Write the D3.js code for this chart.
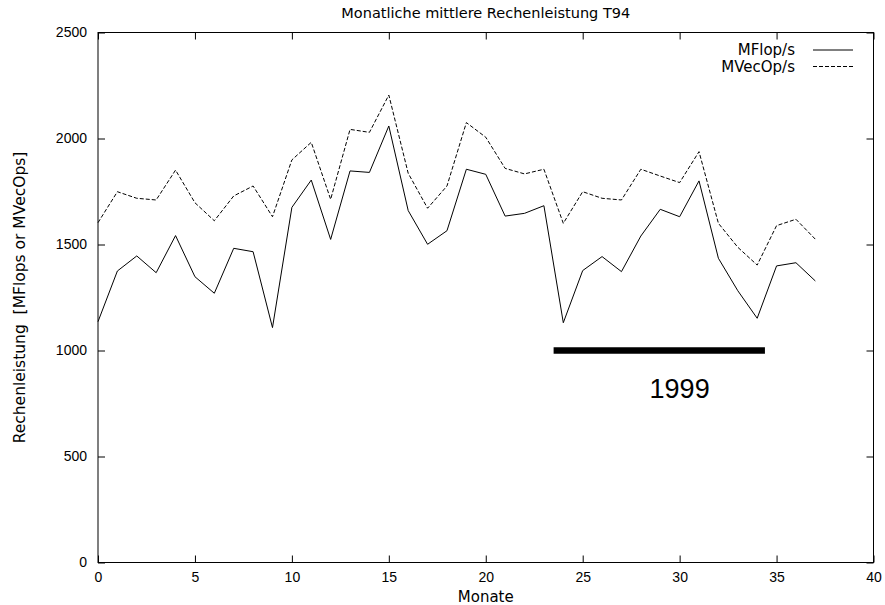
<!DOCTYPE html>
<html>
<head>
<meta charset="utf-8">
<script src="https://cdn.jsdelivr.net/npm/d3@7"></script>
<style>
  body { margin: 0; background: #fff; }
  svg { display: block; font-family: "DejaVu Sans", sans-serif; }
</style>
</head>
<body>
<div id="chart"></div>
<script>
// Data
const months = d3.range(0, 38)
const mflops = [1136, 1375, 1446, 1367, 1542, 1348, 1270, 1482, 1466, 1108,
  1675, 1804, 1524, 1847, 1840, 2059, 1660, 1501, 1565, 1855,
  1831, 1634, 1647, 1683, 1131, 1377, 1443, 1372, 1540, 1666,
  1631, 1800, 1435, 1282, 1152, 1399, 1414, 1328]
const mvecops = [1603, 1749, 1718, 1710, 1851, 1697, 1612, 1729, 1776, 1631,
  1899, 1982, 1713, 2043, 2029, 2205, 1836, 1671, 1776, 2075,
  2006, 1859, 1833, 1855, 1600, 1749, 1718, 1710, 1855, 1823,
  1792, 1938, 1600, 1487, 1403, 1589, 1619, 1525]
const xTicks = [0, 5, 10, 15, 20, 25, 30, 35, 40]
const yTicks = [0, 500, 1000, 1500, 2000, 2500]
const yearBar = [23.5, 34.4]
const yearBarValue = 1000
const yearLabel = "1999"
const yearLabelPos = [30.0, 775]

// Dimensions
const dimensions = {
  width: 885,
  height: 605,
  margin: { top: 32.5, right: 11.5, bottom: 42.5, left: 98 }
}
dimensions.boundedWidth = dimensions.width - dimensions.margin.left - dimensions.margin.right
dimensions.boundedHeight = dimensions.height - dimensions.margin.top - dimensions.margin.bottom

const svg = d3.select("#chart").append("svg")
  .attr("width", dimensions.width)
  .attr("height", dimensions.height)

const bounds = svg.append("g")
  .attr("transform", `translate(${dimensions.margin.left},${dimensions.margin.top})`)

// Scales
const xScale = d3.scaleLinear().domain([0, 40]).range([0, dimensions.boundedWidth])
const yScale = d3.scaleLinear().domain([0, 2500]).range([dimensions.boundedHeight, 0])

// Axes (gnuplot style: inward ticks, mirrored)
const tickLen = 7
const styleAxis = g => {
  g.select(".domain").remove()
  g.selectAll("line").attr("stroke", "#000")
  g.selectAll("text").attr("fill", "#000").style("font-size", "14px")
}
bounds.append("g")
  .attr("transform", `translate(0,${dimensions.boundedHeight})`)
  .call(d3.axisBottom(xScale).tickValues(xTicks).tickSizeInner(-tickLen).tickSizeOuter(0).tickPadding(10))
  .call(styleAxis)
bounds.append("g")
  .call(d3.axisTop(xScale).tickValues(xTicks).tickSizeInner(-tickLen).tickSizeOuter(0).tickFormat(""))
  .call(styleAxis)
bounds.append("g")
  .call(d3.axisLeft(yScale).tickValues(yTicks).tickFormat(d3.format("d")).tickSizeInner(-tickLen).tickSizeOuter(0).tickPadding(11))
  .call(styleAxis)
bounds.append("g")
  .attr("transform", `translate(${dimensions.boundedWidth},0)`)
  .call(d3.axisRight(yScale).tickValues(yTicks).tickSizeInner(-tickLen).tickSizeOuter(0).tickFormat(""))
  .call(styleAxis)

bounds.append("rect")
  .attr("x", 0).attr("y", 0)
  .attr("width", dimensions.boundedWidth)
  .attr("height", dimensions.boundedHeight)
  .attr("fill", "none")
  .attr("stroke", "#000")

// Lines
const lineGen = values => d3.line()
  .x((d, i) => xScale(months[i]))
  .y(d => yScale(d))(values)

bounds.append("path")
  .attr("d", lineGen(mflops))
  .attr("fill", "none")
  .attr("stroke", "#000")
  .attr("stroke-width", 1)

bounds.append("path")
  .attr("d", lineGen(mvecops))
  .attr("fill", "none")
  .attr("stroke", "#000")
  .attr("stroke-width", 1)
  .attr("stroke-dasharray", "4,2")

// 1999 marker
bounds.append("line")
  .attr("x1", xScale(yearBar[0]))
  .attr("x2", xScale(yearBar[1]))
  .attr("y1", yScale(yearBarValue))
  .attr("y2", yScale(yearBarValue))
  .attr("stroke", "#000")
  .attr("stroke-width", 6.5)

bounds.append("text")
  .attr("x", xScale(yearLabelPos[0]))
  .attr("y", yScale(yearLabelPos[1]))
  .attr("text-anchor", "middle")
  .style("font-family", "'Liberation Sans', Arial, sans-serif")
  .style("font-size", "27px")
  .text(yearLabel)

// Legend
const legend = [
  { label: "MFlop/s", dash: null },
  { label: "MVecOp/s", dash: "4,2" }
]
const legendGroup = svg.append("g")
legend.forEach((d, i) => {
  const y = 50 + i * 16.5
  legendGroup.append("text")
    .attr("x", 795)
    .attr("y", y + 5)
    .attr("text-anchor", "end")
    .style("font-size", "15px")
    .text(d.label)
  legendGroup.append("line")
    .attr("x1", 813).attr("x2", 853)
    .attr("y1", y).attr("y2", y)
    .attr("stroke", "#000")
    .attr("stroke-dasharray", d.dash)
})

// Labels
svg.append("text")
  .attr("x", dimensions.margin.left + dimensions.boundedWidth / 2)
  .attr("y", 18)
  .attr("text-anchor", "middle")
  .style("font-size", "14.5px")
  .text("Monatliche mittlere Rechenleistung T94")

svg.append("text")
  .attr("x", dimensions.margin.left + dimensions.boundedWidth / 2)
  .attr("y", 602)
  .attr("text-anchor", "middle")
  .style("font-size", "15px")
  .text("Monate")

svg.append("text")
  .attr("transform", `translate(25,${dimensions.margin.top + dimensions.boundedHeight / 2}) rotate(-90)`)
  .attr("text-anchor", "middle")
  .style("font-size", "15.5px")
  .style("white-space", "pre")
  .text("Rechenleistung  [MFlops or MVecOps]")
</script>
</body>
</html>
